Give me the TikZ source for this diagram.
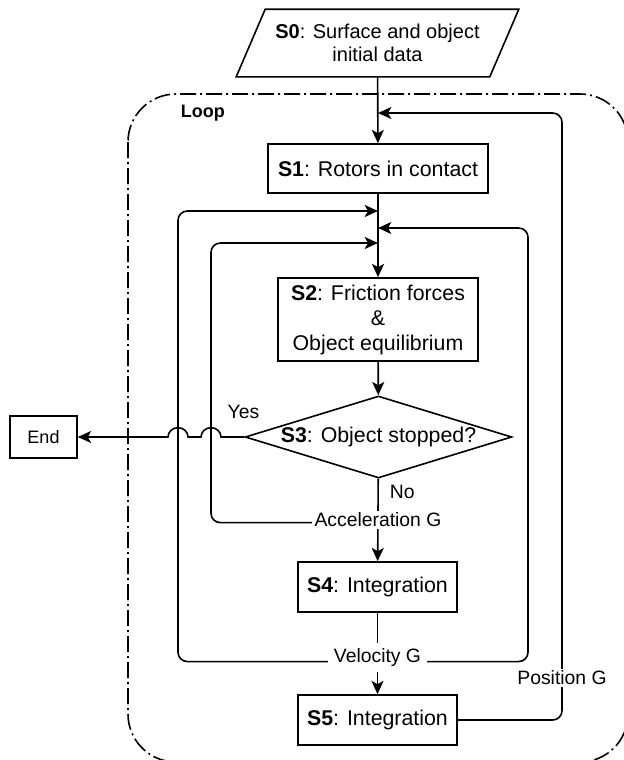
\documentclass[tikz,border=0pt]{standalone}
\usepackage{fontspec}
\setmainfont{Liberation Sans}
\usetikzlibrary{arrows.meta,shapes.geometric,calc}

\begin{document}
\begin{tikzpicture}[x=0.75pt,y=-0.75pt,line width=1.2pt,
  >={Stealth[length=10pt,width=9pt,inset=2.5pt]},
  stepbox/.style={draw, rectangle, inner sep=0pt, font=\fontsize{16}{18.75}\selectfont},
  lbl/.style={fill=white, inner sep=1.5pt, font=\fontsize{14.5}{17}\selectfont}]
\useasboundingbox (0,0) rectangle (624,760);
\clip (0,0) rectangle (624,760);
\draw[dash pattern=on 12pt off 3pt on 1.5pt off 3pt, rounded corners=36pt] (128,94) rectangle (628,762);
\node[font=\bfseries\fontsize{13.5}{16}\selectfont, anchor=west, inner sep=0pt] (looplbl) at (180,113) {Loop};
\node[stepbox, draw=none, minimum width=210.75pt, minimum height=49.5pt, align=center, font=\fontsize{15}{17.25}\selectfont] (s0) at (377.5,43) {\textbf{S0}: Surface and object\\initial data};
\draw (s0.south west) -- ($(s0.north west)+(29,0)$) -- (s0.north east) -- ($(s0.south east)-(29,0)$) -- cycle;
\node[stepbox, minimum width=165pt, minimum height=36.75pt] (s1) at (378,168.5) {\textbf{S1}: Rotors in contact};
\node[stepbox, minimum width=150pt, minimum height=62.25pt, align=center] (s2) at (378,319.5) {\textbf{S2}: Friction forces\\\&\\Object equilibrium};
\node[stepbox, diamond, aspect=3.25, minimum width=200pt, minimum height=61.5pt] (s3) at (378.5,437) {\textbf{S3}: Object stopped?};
\node[stepbox, minimum width=119.25pt, minimum height=37.5pt] (s4) at (377.5,587) {\textbf{S4}: Integration};
\node[stepbox, minimum width=119.25pt, minimum height=37.5pt] (s5) at (377.5,720) {\textbf{S5}: Integration};
\node[draw, minimum width=50.25pt, minimum height=31.5pt, font=\fontsize{13.5}{15}\selectfont] (fin) at (43.5,437) {End};
\coordinate (j0) at (378,113);
\coordinate (j1) at (378,211);
\coordinate (j2) at (378,228);
\coordinate (j3) at (378,243);
\draw[->] (s0) -- (s1);
\draw[->] (s1) -- (s2);
\draw[->] (s2) -- (s3);
\draw[->] (s3) -- node[lbl, pos=0.5] (acc) {Acceleration G} (s4);
\draw[->] (s4) -- node[lbl, pos=0.55, inner sep=4pt] (vel) {Velocity G} (s5);
\draw[->, rounded corners=7pt] ([yshift=-2pt]acc.west) -| ($(j3)+(-167,0)$) -- (j3);
\draw[->, rounded corners=7pt] ([yshift=-3pt]vel.west) -| ($(j1)+(-200,0)$) -- (j1);
\draw[->, rounded corners=7pt] ([yshift=-3pt]vel.east) -| ($(j2)+(150,0)$) -- (j2);
\draw[->, rounded corners=7pt] (s5.east) -| ($(j0)+(184,0)$) -- (j0);
\node[lbl] (posg) at (562,678) {Position G};
\draw[->] (s3.west) -- (221,437) arc[start angle=0, end angle=180, x radius=7.5pt, y radius=7pt] -- (188,437) arc[start angle=0, end angle=180, x radius=7.5pt, y radius=7pt] -- (fin.east);
\node[font=\fontsize{14.5}{17}\selectfont] (yes) at (243.5,412) {Yes};
\node[font=\fontsize{14.5}{17}\selectfont, anchor=west, inner sep=0pt] (no) at (389,492) {No};
\end{tikzpicture}
\end{document}
